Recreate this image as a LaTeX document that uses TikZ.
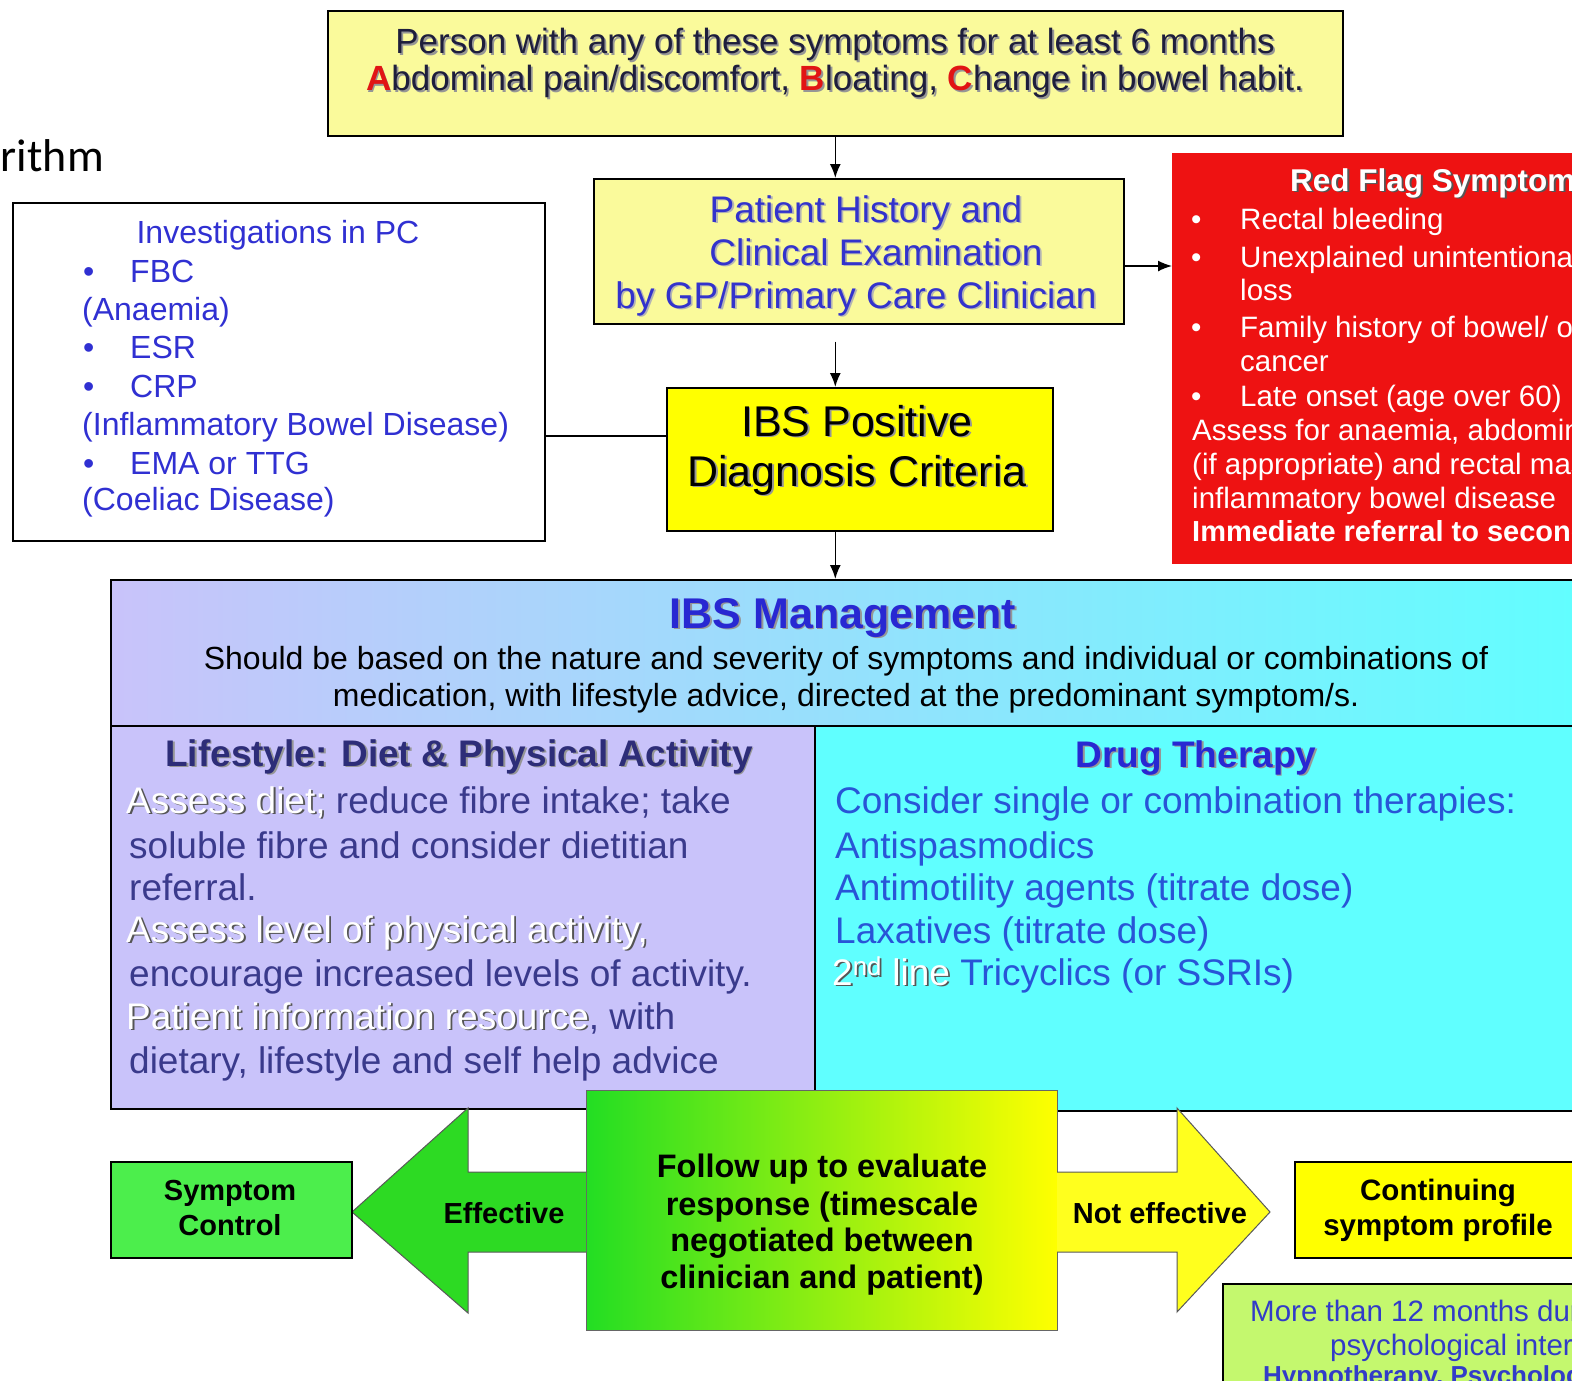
\documentclass[tikz,border=0pt]{standalone}
\usepackage{fontspec}
\setmainfont{Liberation Sans}
\newfontfamily\calfont{Carlito}
\usetikzlibrary{arrows.meta,calc}
\definecolor{lightyel}{RGB}{250,250,155}
\definecolor{ibsyel}{RGB}{255,255,0}
\definecolor{redfill}{RGB}{238,18,18}
\definecolor{lav}{RGB}{201,195,250}
\definecolor{cyanc}{RGB}{96,255,255}
\definecolor{topnavy}{RGB}{30,30,60}
\definecolor{abcred}{RGB}{225,20,20}
\definecolor{patblue}{RGB}{51,51,204}
\definecolor{invblue}{RGB}{48,48,210}
\definecolor{mgmtblue}{RGB}{40,40,210}
\definecolor{lifenavy}{RGB}{58,58,140}
\definecolor{lifetitle}{RGB}{45,45,120}
\definecolor{drugblue}{RGB}{40,85,215}
\definecolor{scgreen}{RGB}{76,238,76}
\definecolor{limeg}{RGB}{196,248,110}
\definecolor{arrgreen}{RGB}{45,218,35}
\definecolor{arryel}{RGB}{255,255,30}
\definecolor{fugreen}{RGB}{35,222,35}
\definecolor{morblue}{RGB}{50,60,200}
\definecolor{shgray}{RGB}{150,150,150}
\definecolor{lightsh}{RGB}{180,180,180}
\definecolor{darksh}{RGB}{85,85,85}
\newcommand\shtx[3][shgray]{\leavevmode\rlap{\kern1.8pt\raisebox{-1.8pt}{\color{#1}#3}}{\color{#2}#3}}
\newcommand\fsz[1]{\fontsize{#1}{#1}\selectfont}
\begin{document}
\begin{tikzpicture}[x=1pt,y=-1pt,
  box/.style={draw=black, line width=1.6pt, inner sep=0pt, anchor=north west},
  txt/.style={inner sep=0pt, anchor=base},
  txtw/.style={inner sep=0pt, anchor=base west},
  conn/.style={line width=1.6pt, -{Latex[length=14pt,width=11pt]}},
  blockarrow/.style={line width=1pt, draw=black!65}]
\useasboundingbox (0,0) rectangle (1572,1381);
\clip (0,0) rectangle (1572,1381);
\fill[white] (0,0) rectangle (1572,1381);

% title fragment
\node[inner sep=0pt, anchor=base east, font=\calfont\fsz{46}] (alg) at (104,171) {Algorithm};

% boxes
\node[box, minimum width=1015pt, minimum height=125pt, fill=lightyel] (top) at (327,10) {};
\node[box, minimum width=530pt, minimum height=145pt, fill=lightyel] (pat) at (593,178) {};
\node[box, minimum width=386pt, minimum height=143pt, fill=ibsyel] (ibs) at (666,387) {};
\node[box, minimum width=532pt, minimum height=338pt, fill=white] (inv) at (12,202) {};
\node[inner sep=0pt, anchor=north west, minimum width=450pt, minimum height=411pt, fill=redfill] (red) at (1172,153) {};

% management
\node[box, minimum width=1490pt, minimum height=146pt, left color=lav, right color=cyanc] (mhead) at (110,579) {};
\node[box, minimum width=704pt, minimum height=383pt, fill=lav] (life) at (110,725) {};
\node[box, minimum width=786pt, minimum height=385pt, fill=cyanc] (drug) at (814,725) {};

% bottom
\node[box, minimum width=471pt, minimum height=240pt, left color=fugreen, right color=ibsyel, line width=1pt, draw=black!60] (fu) at (586,1090) {};
\draw[blockarrow, fill=arrgreen] (586,1172) -- (468,1172) -- (468,1108) -- (352,1212) -- (468,1313) -- (468,1252) -- (586,1252);
\draw[blockarrow, fill=arryel] (1057,1172) -- (1177,1172) -- (1177,1108) -- (1270,1212) -- (1177,1312) -- (1177,1252) -- (1057,1252);
\node[box, minimum width=241pt, minimum height=96pt, fill=scgreen] (sc) at (110,1161) {};
\node[box, minimum width=300pt, minimum height=96pt, fill=ibsyel] (cont) at (1294,1161) {};
\node[box, minimum width=400pt, minimum height=150pt, fill=limeg] (more) at (1222,1283) {};

% connectors
\coordinate (ry) at (0,266);
\coordinate (iy) at (0,436);
\draw[conn] (top.south) -- (pat.north -| top.south);
\draw[conn] ([yshift=-17pt]pat.south -| top.south) -- (ibs.north -| top.south);
\draw[conn] (ibs.south -| top.south) -- (mhead.north -| top.south);
\draw[conn] (pat.east |- ry) -- (red.west |- ry);
\draw[line width=1.6pt] (inv.east |- iy) -- (ibs.west |- iy);

% top box text
\node[txt, font=\fsz{35}] (t1) at (835,54) {\shtx{topnavy}{Person with any of these symptoms for at least 6 months}};
\node[txt, font=\fsz{35}] (t2) at (835,91) {\shtx{abcred}{\textbf{A}}\shtx{topnavy}{bdominal pain/discomfort, }\shtx{abcred}{\textbf{B}}\shtx{topnavy}{loating, }\shtx{abcred}{\textbf{C}}\shtx{topnavy}{hange in bowel habit.}};

% patient box text
\node[txt, font=\fsz{37}] (p1) at (866,222) {\shtx[lightsh]{patblue}{Patient History and}};
\node[txt, font=\fsz{37}] (p2) at (876,265) {\shtx[lightsh]{patblue}{Clinical Examination}};
\node[txt, font=\fsz{37}] (p3) at (856,308) {\shtx[lightsh]{patblue}{by GP/Primary Care Clinician}};

% IBS positive
\node[txt, font=\fsz{43}] (i1) at (857,436) {\shtx{black}{IBS Positive}};
\node[txt, font=\fsz{43}] (i2) at (857,486) {\shtx{black}{Diagnosis Criteria}};

% red flag
\node[txtw, font=\bfseries\fsz{31.5}] (r0) at (1290,191) {\shtx[darksh]{white}{Red Flag Symptoms}};
\begin{scope}[every node/.append style={txtw, font=\fsz{29.5}, text=white}]
\node (rb1) at (1191,229) {•};
\node (rl1) at (1240,229) {Rectal bleeding};
\node (rb2) at (1191,267) {•};
\node (rl2) at (1240,267) {Unexplained unintentional};
\node (rl3) at (1240,300) {loss};
\node (rb3) at (1191,337) {•};
\node (rl4) at (1240,337) {Family history of bowel/ ovarian};
\node (rl5) at (1240,371) {cancer};
\node (rb4) at (1191,406) {•};
\node (rl6) at (1240,406) {Late onset (age over 60)};
\node (rl7) at (1192,440) {Assess for anaemia, abdominal};
\node (rl8) at (1192,474) {(if appropriate) and rectal masses};
\node (rl9) at (1192,508) {inflammatory bowel disease};
\node[font=\bfseries\fsz{29}] (rl10) at (1192,541) {Immediate referral to secondary};
\end{scope}

% investigations
\begin{scope}[every node/.append style={font=\fsz{32}, text=invblue}]
\node[txt] (v0) at (278,243) {Investigations in PC};
\node[txtw] (vb1) at (83,282) {•};
\node[txtw] (v1) at (130,282) {FBC};
\node[txtw] (v2) at (82,320) {(Anaemia)};
\node[txtw] (vb2) at (83,358) {•};
\node[txtw] (v3) at (130,358) {ESR};
\node[txtw] (vb3) at (83,397) {•};
\node[txtw] (v4) at (130,397) {CRP};
\node[txtw] (v5) at (82,435) {(Inflammatory Bowel Disease)};
\node[txtw] (vb4) at (83,474) {•};
\node[txtw] (v6) at (130,474) {EMA or TTG};
\node[txtw] (v7) at (82,510) {(Coeliac Disease)};
\end{scope}

% management header
\node[txt, font=\bfseries\fsz{43}] (m0) at (843,628) {\shtx{mgmtblue}{IBS Management}};
\node[txt, font=\fsz{32}] (m1) at (846,669) {Should be based on the nature and severity of symptoms and individual or combinations of};
\node[txt, font=\fsz{32}] (m2) at (846,706) {medication, with lifestyle advice, directed at the predominant symptom/s.};

% lifestyle
\node[txt, font=\bfseries\fsz{37}] (l0) at (459,766) {\shtx{lifetitle}{Lifestyle: Diet \& Physical Activity}};
\begin{scope}[every node/.append style={txtw, font=\fsz{37}, text=lifenavy}]
\node (l1) at (126,813) {\shtx[darksh]{white}{Assess diet;}\ reduce fibre intake; take};
\node (l2) at (129,858) {soluble fibre and consider dietitian};
\node (l3) at (129,900) {referral.};
\node (l4) at (126,942) {\shtx[darksh]{white}{Assess level of physical activity,}};
\node (l5) at (129,986) {encourage increased levels of activity.};
\node (l6) at (126,1029) {\shtx[darksh]{white}{Patient information resource}, with};
\node (l7) at (129,1073) {dietary, lifestyle and self help advice};
\end{scope}

% drug therapy
\node[txt, font=\bfseries\fsz{37}] (d0) at (1196,767) {\shtx{mgmtblue}{Drug Therapy}};
\begin{scope}[every node/.append style={txtw, font=\fsz{37}, text=drugblue}]
\node (d1) at (835,813) {Consider single or combination therapies:};
\node (d2) at (835,858) {Antispasmodics};
\node (d3) at (835,900) {Antimotility agents (titrate dose)};
\node (d4) at (835,943) {Laxatives (titrate dose)};
\node (d5) at (832,985) {\shtx[darksh]{white}{2\textsuperscript{nd} line} Tricyclics (or SSRIs)};
\end{scope}

% follow up
\begin{scope}[every node/.append style={txt, font=\bfseries\fsz{32.5}}]
\node (f1) at (822,1177) {Follow up to evaluate};
\node (f2) at (822,1215) {response (timescale};
\node (f3) at (822,1251) {negotiated between};
\node (f4) at (822,1288) {clinician and patient)};
\end{scope}
\node[txt, font=\bfseries\fsz{29}] (eff) at (504,1223) {Effective};
\node[txt, font=\bfseries\fsz{29}] (neff) at (1160,1223) {Not effective};
\node[txt, font=\bfseries\fsz{29}] (sc1) at (230,1200) {Symptom};
\node[txt, font=\bfseries\fsz{29}] (sc2) at (230,1235) {Control};
\node[txt, font=\bfseries\fsz{29.5}] (ct1) at (1438,1200) {Continuing};
\node[txt, font=\bfseries\fsz{29.5}] (ct2) at (1438,1235) {symptom profile};

% bottom right
\node[txtw, font=\fsz{29.5}, text=morblue] (mo1) at (1250,1321) {More than 12 months duration};
\node[txtw, font=\fsz{29.5}, text=morblue] (mo2) at (1330,1355) {psychological interventions};
\node[txtw, font=\bfseries\fsz{26}, text=morblue] (mo3) at (1263,1384) {Hypnotherapy, Psychological};
\end{tikzpicture}
\end{document}
